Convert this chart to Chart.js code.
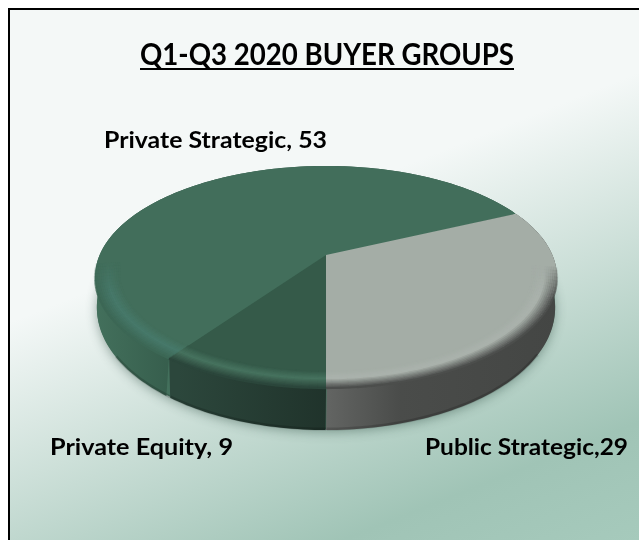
<!DOCTYPE html>
<html><head><meta charset="utf-8">
<style>html,body{margin:0;padding:0;background:#fff}canvas{display:block}</style>
<script src="https://cdn.jsdelivr.net/npm/chart.js@4"></script>
</head><body><canvas id="c" width="639" height="540"></canvas>
<script>
const titleText = 'Q1-Q3 2020 BUYER GROUPS';
const categories = ['Private Strategic', 'Public Strategic', 'Private Equity'];
const values = [53, 29, 9];
const dataLabels = ['Private Strategic, 53', 'Public Strategic,29', 'Private Equity, 9'];
const faceColors = ['#426E5B', '#A4ADA6', '#355A49'];

const K = 0.198, A = 226.4, B = 106.7, CX = 326, CY = 255;
const proj = (c, s) => { const u = c[0]*s, v = c[1]*s, w = 1 - K*v; return [CX + A*u/w, CY + B*v/w]; };
const labelBoxes = [[104,327,148],[425,628,455],[50,233,455]];
const sideStops = [
  [[95,'#43705C'],[178,'#355C4B']],
  [[326,'#636563'],[400,'#4A4C4A'],[557,'#444644']],
  [[178,'#2C473C'],[326,'#20332B']]
];
const bevelRamp = [
  ['#426E5B','#47796A','#3C6755'],
  ['#A4ADA6','#ABB3AD','#4C4E4C'],
  ['#355A49','#47735F','#2B463B']
];
const lerpHex = (a,b,t)=>{const p=x=>[1,3,5].map(i=>parseInt(x.substr(i,2),16));const A1=p(a),B1=p(b);return 'rgb('+A1.map((q,i)=>Math.round(q+(B1[i]-q)*t)).join(',')+')';};
const fitText = (ctx,s,x0,x1,y)=>{const m=ctx.measureText(s).width; ctx.save(); ctx.translate(x0,y); ctx.scale((x1-x0)/m,1); ctx.fillText(s,0,0); ctx.restore();};

const pie3d = {
  id: 'pie3d',
  beforeDraw(chart) {
    const ctx = chart.ctx;
    ctx.save();
    const g = ctx.createLinearGradient(0,0,273,687);
    g.addColorStop(0,'#F4F8F7'); g.addColorStop(0.41,'#F4F8F7');
    g.addColorStop(0.85,'#A0C4B6'); g.addColorStop(1,'#A6CABC');
    ctx.fillStyle = '#fff'; ctx.fillRect(0,0,639,540);
    ctx.fillStyle = g; ctx.fillRect(8,8,631,532);
    ctx.fillStyle = '#000'; ctx.fillRect(8,8,631,2); ctx.fillRect(8,8,2,532);
    ctx.restore();
  },
  beforeDatasetsDraw(chart) {
    const ctx = chart.ctx, arcs = chart.getDatasetMeta(0).data;
    const bot = a => { const c=[Math.cos(a),Math.sin(a)], p=proj(c,1); return [CX+(p[0]-CX)*0.992, p[1]+28+14*Math.max(0,c[1])]; };
    ctx.save();
    ctx.shadowColor='rgba(45,75,65,.45)'; ctx.shadowBlur=11; ctx.shadowOffsetY=3;
    ctx.fillStyle='#43705C'; ctx.beginPath();
    for(let a=0;a<6.29;a+=0.02){const p=bot(a); ctx.lineTo(p[0],p[1]-1);}
    ctx.closePath(); ctx.fill(); ctx.restore();
    arcs.forEach((arc,i)=>{
      const s0=sideStops[i][0][0], s1=sideStops[i][sideStops[i].length-1][0];
      const g=ctx.createLinearGradient(s0,0,s1,0);
      sideStops[i].forEach(s=>g.addColorStop((s[0]-s0)/(s1-s0),s[1]));
      ctx.fillStyle=g; ctx.beginPath();
      for(let a=arc.startAngle;a<=arc.endAngle;a+=0.02){const p=proj([Math.cos(a),Math.sin(a)],1);ctx.lineTo(p[0],p[1]);}
      for(let a=arc.endAngle;a>=arc.startAngle;a-=0.02){const p=bot(a);ctx.lineTo(p[0],p[1]);}
      ctx.closePath(); ctx.fill();
      ctx.strokeStyle='rgba(0,0,0,.16)'; ctx.lineWidth=3; ctx.beginPath();
      for(let a=arc.startAngle;a<=arc.endAngle;a+=0.02){ if(Math.sin(a)<0.55) {ctx.moveTo(...bot(a));continue;} const p=bot(a);ctx.lineTo(p[0],p[1]-1);}
      ctx.stroke();
    });
    for(let py=150;py<400;py++){
      const Y0=py+0.5-CY, v0=Y0/(B+K*Y0);
      if(Math.abs(v0)>1.02) continue;
      const w=1-K*v0;
      arcs.forEach(arc=>{
        const R=arc.outerRadius, sx=A/(w*R), sy=B/(w*w*R);
        ctx.save();
        ctx.beginPath(); ctx.rect(0,py,639,1); ctx.clip();
        ctx.setTransform(sx,0,0,sy,CX-sx*arc.x,CY+Y0-sy*(arc.y+R*v0));
        arc.draw(ctx);
        ctx.restore();
      });
    }
    arcs.forEach((arc,i)=>{
      const ramp=bevelRamp[i], rings=14;
      for(let k=0;k<rings;k++){
        const t=k/(rings-1), s=0.90+0.10*t;
        const col=t<0.45?lerpHex(ramp[0],ramp[1],t/0.45):lerpHex(ramp[1],ramp[2],(t-0.45)/0.55);
        ctx.strokeStyle=col; ctx.lineWidth=2.2; ctx.lineCap='butt';
        for(let a=arc.startAngle;a<arc.endAngle;a+=0.03){
          const v=Math.sin(a), al=Math.max(0,Math.min(1,(v-0.08)/0.3));
          if(al<=0) continue;
          ctx.globalAlpha=al;
          const a2=Math.min(a+0.032,arc.endAngle);
          const p=proj([Math.cos(a),v],s), q=proj([Math.cos(a2),Math.sin(a2)],s);
          ctx.beginPath(); ctx.moveTo(p[0],p[1]); ctx.lineTo(q[0],q[1]); ctx.stroke();
        }
      }
      ctx.globalAlpha=1;
    });
    return false;
  },
  afterDraw(chart) {
    const ctx = chart.ctx;
    ctx.save();
    ctx.fillStyle='#000'; ctx.textBaseline='alphabetic'; ctx.textAlign='left';
    ctx.font = 'bold 30px Lato';
    fitText(ctx,titleText,140,514,65);
    ctx.fillRect(140, 68, 374, 2);
    ctx.font = 'bold 23px Lato';
    dataLabels.forEach((s,i)=>{ const b=labelBoxes[i]; fitText(ctx,s,b[0],b[1],b[2]); });
    ctx.restore();
  }
};

new Chart(document.getElementById('c'), {
  type: 'pie',
  data: { labels: categories, datasets: [{ data: values, backgroundColor: faceColors, borderWidth: 0, hoverOffset: 0 }] },
  options: {
    responsive: false, animation: false, rotation: 215.6,
    layout: { padding: { left: 60, right: 60, top: 100, bottom: 60 } },
    plugins: { legend: { display: false }, tooltip: { enabled: false }, title: { display: false } }
  },
  plugins: [pie3d]
});
</script></body></html>
